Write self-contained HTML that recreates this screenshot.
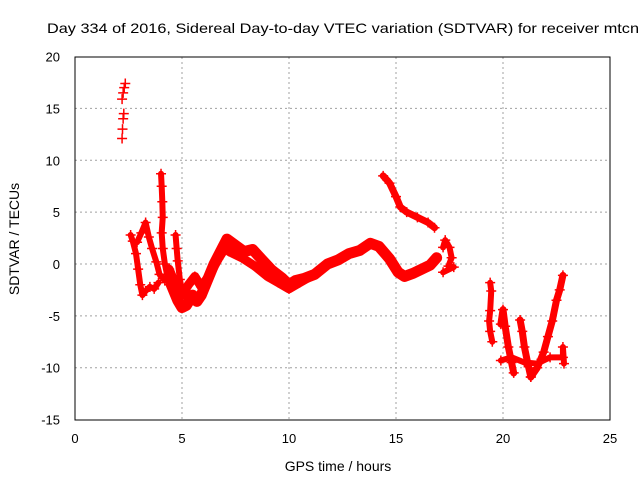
<!DOCTYPE html>
<html><head><meta charset="utf-8"><style>
body{margin:0;background:#fff}
svg{display:block;font-family:"Liberation Sans",sans-serif}
</style></head><body>
<svg id="chart" width="640" height="480">
<text x="47" y="33" font-size="14" textLength="592" lengthAdjust="spacingAndGlyphs" text-anchor="start">Day 334 of 2016, Sidereal Day-to-day VTEC variation (SDTVAR) for receiver mtcn</text>
<text x="338" y="471" font-size="14" text-anchor="middle">GPS time / hours</text>
<text x="19" y="239" font-size="14" text-anchor="middle" transform="rotate(-90 19 239)">SDTVAR / TECUs</text>
<g id="grid"></g><g id="marks"></g>
<rect x="75" y="57" width="535" height="363" fill="none" stroke="#000"/>
</svg>
<script>
const xTicks=[0,5,10,15,20,25];
const yTicks=[20,15,10,5,0,-5,-10,-15];
const trackA=[[2.2,12.1],[2.22,13],[2.25,14],[2.28,14.5],[2.2,15.9],[2.25,16.5],[2.3,17],[2.35,17.4]];
const trackB=[[2.6,2.8],[2.7,2.2],[2.85,1],[2.95,-0.5],[3.05,-2],[3.15,-3],[3.3,-2.6],[3.5,-2.2],[3.7,-2.4],[3.9,-1.8]];
const trackC=[[2.9,2.1],[3.1,3],[3.3,4],[3.45,2.6],[3.6,1.5],[3.8,0.2],[3.95,-1],[4.2,-1.6]];
const trackSpike=[[4.02,8.7],[4.05,7.5],[4.08,6],[4.1,4.5],[4.05,3],[4.1,1.5],[4.2,0],[4.3,-1],[4.4,-2]];
const trackD=[[4.7,2.8],[4.75,1.5],[4.8,0.3],[4.9,-1.5],[5.0,-2.5]];
const trackMain=[[4.5,-2],[4.8,-3.5],[5.0,-4.2],[5.2,-4],[5.5,-3],[5.7,-3.6],[5.9,-3],[6.2,-1.5],[6.5,0],[6.9,1.6],[7.1,2.4],[7.5,1.8],[7.9,1.2],[8.3,1.4],[8.7,0.5],[9.2,-0.6],[9.7,-1.4],[10,-2],[10.3,-1.6],[10.7,-1.4],[11.2,-1],[11.8,0],[12.3,0.4],[12.8,1],[13.3,1.3],[13.8,2],[14.2,1.7],[14.7,0.5],[15.1,-0.8],[15.4,-1.2],[15.8,-0.9],[16.2,-0.5],[16.6,-0.1],[16.9,0.6]];
const trackMain2=[[4.4,-0.5],[4.7,-2],[5.0,-3],[5.3,-2],[5.6,-1.2],[5.9,-2.2],[6.3,-1],[6.7,0.5],[7.0,1.5]];
const trackLow=[[7.2,1.2],[7.8,0.6],[8.4,-0.2],[9,-1.2],[9.5,-1.8],[10,-2.4],[10.5,-1.8],[11,-1.2]];
const trackEnd=[[17.2,1.6],[17.3,2.3],[17.5,1.6],[17.6,0.6],[17.45,-0.2],[17.7,-0.3],[17.2,-0.8]];
const trackUpper=[[14.4,8.5],[14.7,7.8],[15,6.5],[15.2,5.5],[15.5,5],[16,4.5],[16.5,4],[16.8,3.5]];
const trackE=[[19.4,-1.8],[19.45,-2.6],[19.4,-4.5],[19.35,-5.5],[19.4,-6.5],[19.5,-7.5]];
const trackF=[[19.9,-5.8],[20.0,-4.4],[20.1,-6],[20.25,-8],[20.4,-9.5],[20.5,-10.5]];
const trackG=[[20.8,-5.4],[20.9,-6.5],[21.0,-8],[21.15,-9.5],[21.3,-10.9]];
const trackH=[[21.3,-10.9],[21.6,-10],[21.9,-8.5],[22.1,-7],[22.3,-5.5],[22.5,-3.5],[22.65,-2.5],[22.8,-1.1]];
const trackI=[[19.9,-9.3],[20.4,-9],[21,-9.5],[21.6,-9.6],[22.2,-9],[22.8,-9],[22.8,-8],[22.85,-9.6]];
const tracks=[trackA,trackB,trackC,trackSpike,trackD,trackMain,trackMain2,trackLow,trackEnd,trackUpper,trackE,trackF,trackG,trackH,trackI];
const widths=[0,6,6,6,6,11,9,9,6,7,6,7,7,7,6];
const NS='http://www.w3.org/2000/svg';
const sx=h=>75+h*535/25, sy=v=>264-v*363/35;
const grid=document.getElementById('grid'), marks=document.getElementById('marks');
xTicks.forEach(t=>{
  const x=sx(t);
  if(t>0&&t<25){const l=document.createElementNS(NS,'line');l.setAttribute('x1',x);l.setAttribute('x2',x);l.setAttribute('y1',57);l.setAttribute('y2',420);l.setAttribute('stroke','#a0a0a0');l.setAttribute('stroke-dasharray','2,3');
  
  
  grid.appendChild(l);}
  const tx=document.createElementNS(NS,'text');tx.setAttribute('x',x);tx.setAttribute('y',443);tx.setAttribute('font-size','13');tx.setAttribute('text-anchor','middle');tx.textContent=t;
  
  
  grid.appendChild(tx);
});
yTicks.forEach(t=>{
  const y=sy(t);
  if(t<20&&t>-15){const l=document.createElementNS(NS,'line');l.setAttribute('x1',75);l.setAttribute('x2',610);l.setAttribute('y1',y);l.setAttribute('y2',y);l.setAttribute('stroke','#a0a0a0');l.setAttribute('stroke-dasharray','2,3');
  
  
  grid.appendChild(l);}
  const tx=document.createElementNS(NS,'text');tx.setAttribute('x',60);tx.setAttribute('y',y+5);tx.setAttribute('font-size','13');tx.setAttribute('text-anchor','end');tx.textContent=t;
  
  
  grid.appendChild(tx);
});
tracks.forEach((tr,i)=>{
  if(widths[i]>0){
    const p=document.createElementNS(NS,'polyline');
    p.setAttribute('points',tr.map(d=>sx(d[0])+','+sy(d[1])).join(' '));
    p.setAttribute('fill','none');p.setAttribute('stroke','#f00');p.setAttribute('stroke-width',widths[i]);p.setAttribute('stroke-linejoin','round');p.setAttribute('stroke-linecap','round');
    
    
    marks.appendChild(p);
  }
  tr.forEach(d=>{
    const x=sx(d[0]),y=sy(d[1]);
    const m=document.createElementNS(NS,'path');
    m.setAttribute('d',`M${x-5},${y}H${x+5}M${x},${y-5}V${y+5}`);
    m.setAttribute('stroke','#f00');m.setAttribute('stroke-width','1.5');
    
    
    marks.appendChild(m);
  });
});
</script>
</body></html>
